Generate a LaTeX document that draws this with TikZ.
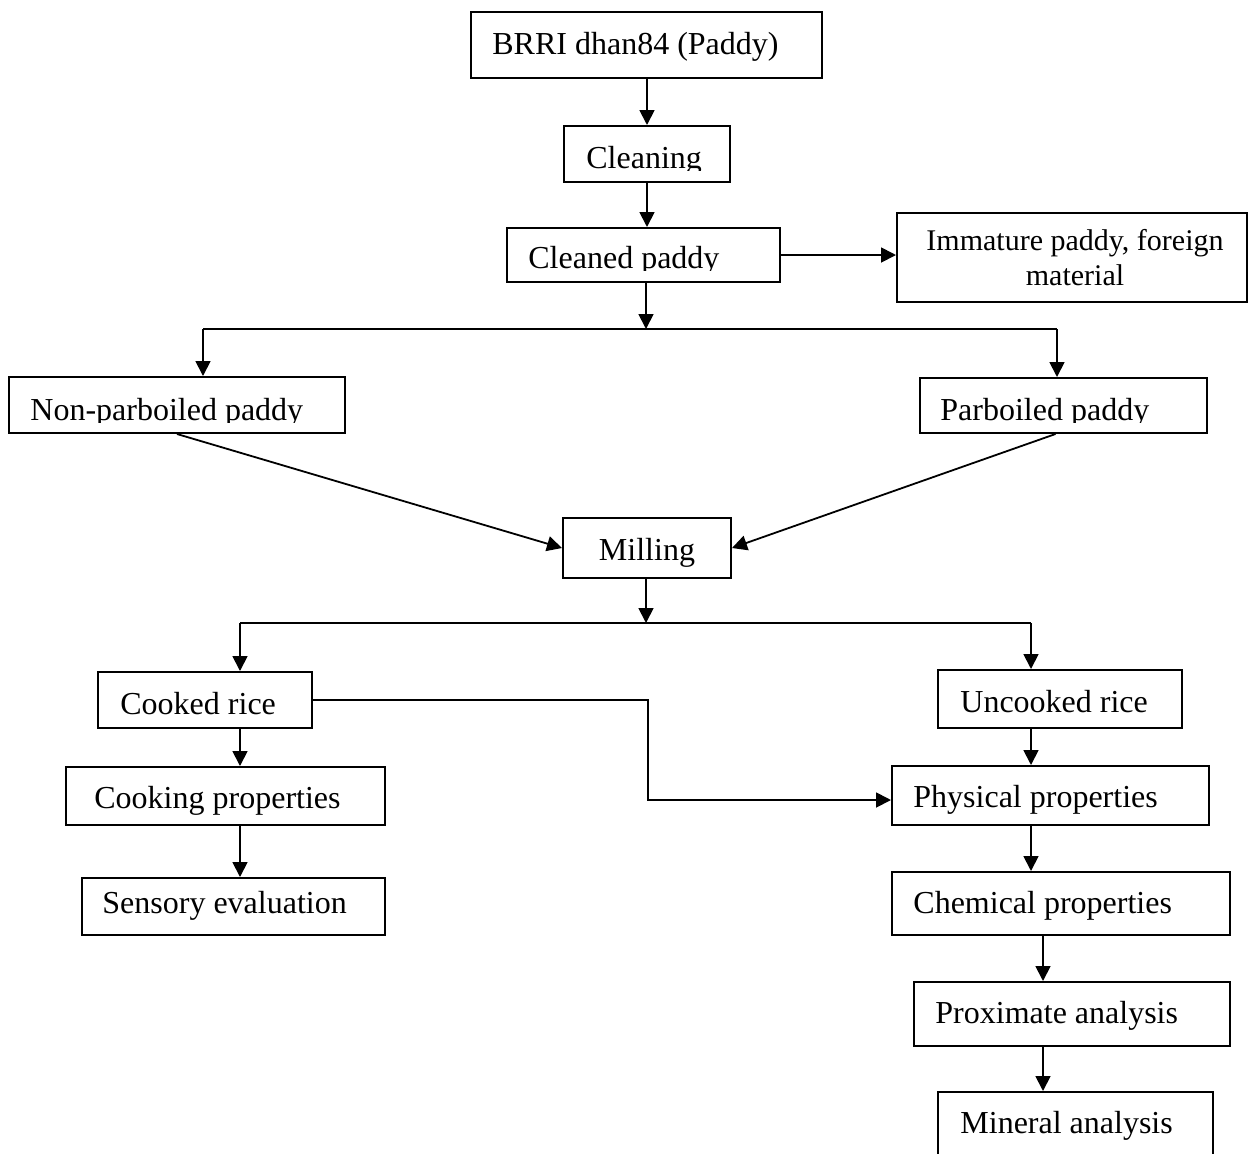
\documentclass[tikz,border=0pt]{standalone}
\usepackage{fontspec}
\setmainfont{Liberation Serif}
\usetikzlibrary{fit,arrows.meta}
\begin{document}
\begin{tikzpicture}[x=0.5pt,y=-0.5pt,
  box/.style={draw, line width=1pt, inner sep=0pt},
  txt/.style={anchor=base west, inner sep=0pt, font=\fontsize{16}{19}\selectfont},
  ctxt/.style={anchor=base, inner sep=0pt, font=\fontsize{16}{19}\selectfont},
  stxt/.style={anchor=base, inner sep=0pt, font=\fontsize{15}{18}\selectfont},
  arr/.style={line width=0.9pt, -{Triangle[length=7.5pt,width=7.5pt]}},
  ln/.style={line width=0.9pt}]
\useasboundingbox (0,0) rectangle (1249,1153);
\clip (0,0) rectangle (1249,1153);
\fill[white] (0,0) rectangle (1249,1153);

% boxes
\node[box, fit={(471,12)(822,78)}] (brri) {};
\node[box, fit={(564,126)(730,182)}] (cln) {};
\node[box, fit={(507,228)(780,282)}] (cleaned) {};
\node[box, fit={(897,213)(1247,302)}] (imm) {};
\node[box, fit={(9,377)(345,433)}] (nonpar) {};
\node[box, fit={(920,378)(1207,433)}] (par) {};
\node[box, fit={(563,518)(731,578)}] (mill) {};
\node[box, fit={(98,672)(312,728)}] (cooked) {};
\node[box, fit={(66,767)(385,825)}] (cooking) {};
\node[box, fit={(82,878)(385,935)}] (sensory) {};
\node[box, fit={(938,670)(1182,728)}] (uncooked) {};
\node[box, fit={(892,766)(1209,825)}] (phys) {};
\node[box, fit={(892,872)(1230,935)}] (chem) {};
\node[box, fit={(914,982)(1230,1046)}] (prox) {};
\node[box, fit={(938,1092)(1213,1170)}] (mineral) {};

% texts
\node[txt] (brriT) at (492,54) {BRRI dhan84 (Paddy)};
\begin{scope}
  \clip (564,126) rectangle (730,170);
  \node[txt] (clnT) at (586,168) {Cleaning};
\end{scope}
\begin{scope}
  \clip (507,228) rectangle (780,270);
  \node[txt] (cleanedT) at (528,268) {Cleaned paddy};
\end{scope}
\node[stxt] (immT1) at (1075,250) {Immature paddy, foreign};
\node[stxt] (immT2) at (1075,285) {material};
\begin{scope}
  \clip (9,377) rectangle (345,422);
  \node[txt] (nonparT) at (30,420) {Non-parboiled paddy};
\end{scope}
\begin{scope}
  \clip (920,378) rectangle (1207,422);
  \node[txt] (parT) at (940,420) {Parboiled paddy};
\end{scope}
\node[ctxt] (millT) at (647,560) {Milling};
\node[txt] (cookedT) at (120,714) {Cooked rice};
\node[txt] (cookingT) at (94,808) {Cooking properties};
\node[txt] (sensoryT) at (102,913) {Sensory evaluation};
\node[txt] (uncookedT) at (960,712) {Uncooked rice};
\node[txt] (physT) at (913,807) {Physical properties};
\node[txt] (chemT) at (913,913) {Chemical properties};
\node[txt] (proxT) at (935,1023) {Proximate analysis};
\node[txt] (mineralT) at (960,1133) {Mineral analysis};

% junctions
\coordinate (j1) at (646,329);
\coordinate (j1L) at (203,329);
\coordinate (j1R) at (1057,329);
\coordinate (j2) at (646,623);
\coordinate (j2L) at (240,623);
\coordinate (j2R) at (1031,623);
\coordinate (b2) at (648,800);
\coordinate (xr) at (1043,0);

% connectors
\draw[arr] (brri.south -| cln.north) -- (cln.north);
\draw[arr] (cln.south) -- (cln.south |- cleaned.north);
\draw[arr] (cleaned.east) -- (cleaned.east -| imm.west);
\draw[arr] (cleaned.south -| j1) -- (j1);
\draw[ln] (j1L) -- (j1R);
\draw[arr] (j1L) -- (j1L |- nonpar.north);
\draw[arr] (j1R) -- (j1R |- par.north);
\draw[arr] (nonpar.south) -- (mill.west);
\draw[arr] ([xshift=-4pt]par.south) -- (mill.east);
\draw[arr] (mill.south -| j2) -- (j2);
\draw[ln] (j2L) -- (j2R);
\draw[arr] (j2L) -- (j2L |- cooked.north);
\draw[arr] (j2R) -- (j2R |- uncooked.north);
\draw[arr] (cooked.south -| j2L) -- (j2L |- cooking.north);
\draw[arr] (cooking.south -| j2L) -- (j2L |- sensory.north);
\draw[arr] (cooked.east) -| (b2) -- (b2 -| phys.west);
\draw[arr] (uncooked.south -| j2R) -- (j2R |- phys.north);
\draw[arr] (phys.south -| j2R) -- (j2R |- chem.north);
\draw[arr] (chem.south -| xr) -- (xr |- prox.north);
\draw[arr] (prox.south -| xr) -- (xr |- mineral.north);
\end{tikzpicture}
\end{document}
